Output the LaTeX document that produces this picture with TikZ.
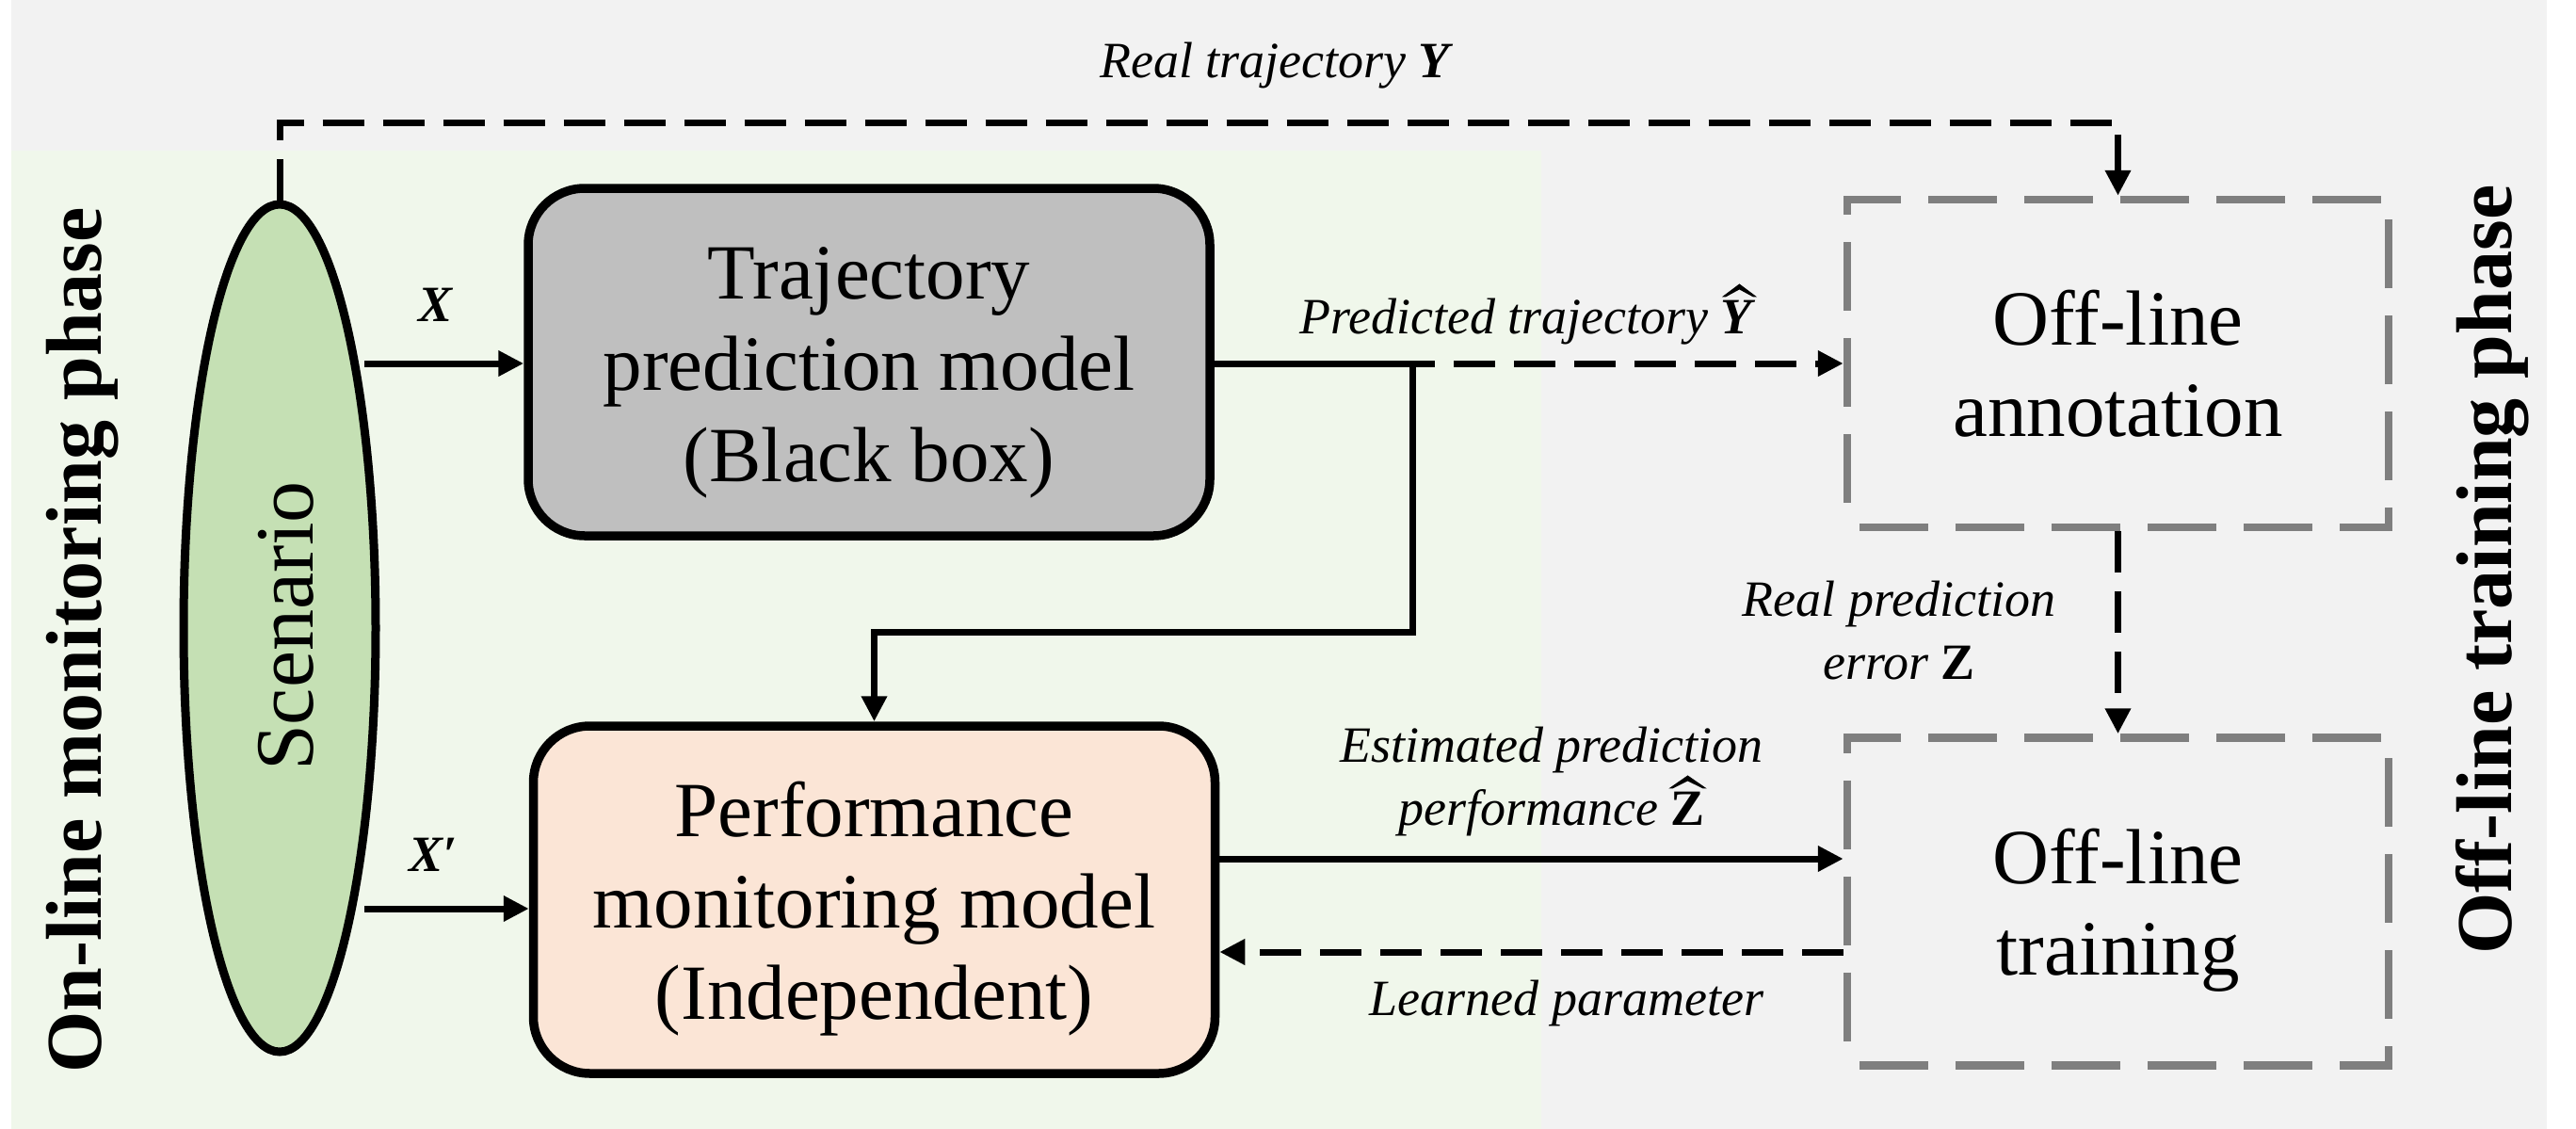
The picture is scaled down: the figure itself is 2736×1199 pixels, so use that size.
\documentclass[tikz,border=0pt]{standalone}
\usepackage{fontspec}
\setmainfont{Liberation Serif}
\usetikzlibrary{arrows.meta,shapes.geometric,calc}
\definecolor{bggray}{HTML}{F2F2F2}
\definecolor{bggreen}{HTML}{F0F7EB}
\definecolor{scengreen}{HTML}{C5E0B4}
\definecolor{trajgray}{HTML}{BFBFBF}
\definecolor{perfpink}{HTML}{FBE5D6}
\definecolor{dashgray}{HTML}{7F7F7F}
\begin{document}
\begin{tikzpicture}[x=1pt,y=-1pt,
  conn/.style={line width=7pt},
  arr/.style={conn,-{Triangle[length=27pt,width=26pt]}},
  darr/.style={arr,dash pattern=on 44pt off 20pt},
  bigbox/.style={draw,line width=9.5pt,rounded corners=60pt,minimum width=724pt,minimum height=369pt,inner sep=0pt},
  dbox/.style={draw=dashgray,line width=8.5pt,dash pattern=on 73pt off 29pt,dash phase=89pt,minimum width=575pt,minimum height=348pt,inner sep=0pt},
  boxtext/.style={font=\fontsize{83}{97}\selectfont,align=center,inner sep=0pt},
  lbl/.style={font=\fontsize{54}{67}\selectfont\itshape,align=center,inner sep=0pt},
  side/.style={font=\fontsize{84}{84}\selectfont\bfseries,rotate=90,anchor=base,inner sep=0pt},
  hatmark/.style={fill=black},
]
\useasboundingbox (0,0) rectangle (2736,1199);
% backgrounds
\fill[bggray] (12,0) rectangle (2705,1199);
\fill[bggreen] (12,160) rectangle (1637,1199);

% nodes
\node[ellipse,draw,line width=9pt,fill=scengreen,minimum width=204pt,minimum height=900pt,inner sep=0pt] (scen) at (297,667) {};
\node[rotate=90,anchor=base,font=\fontsize{88}{88}\selectfont,inner sep=0pt] (scentext) at (332,665) {Scenario};

\node[bigbox,fill=trajgray] (traj) at (923,384.5) {};
\node[boxtext] (trajtext) at ([yshift=-11pt]traj.center) {\strut Trajectory\\\strut prediction model\\\strut (Black box)};

\node[bigbox,fill=perfpink] (perf) at (928.5,955.5) {};
\node[boxtext] (perftext) at ([yshift=-11pt]perf.center) {\strut Performance\\\strut monitoring model\\\strut (Independent)};

\node[dbox] (ann) at (2249.5,386) {};
\node[boxtext] (anntext) at ([yshift=-10pt]ann.center) {\strut Off-line\\\strut annotation};

\node[dbox] (train) at (2249.5,957.5) {};
\node[boxtext] (traintext) at ([yshift=-10pt]train.center) {\strut Off-line\\\strut training};

\node[side] (online) at (107,680) {On-line monitoring phase};
\node[side] (offline) at (2667,605) {Off-line training phase};

% coordinates
\coordinate (ytop) at (0,130);
\coordinate (xs) at (387,386);
\coordinate (xps) at (387,965);
\coordinate (junc) at (1500,386);
\coordinate (estY) at (0,912);
\coordinate (lrnY) at (0,1011);

% connectors
\draw[darr] (scen.north) |- (ann.north |- ytop) -- (ann.north);
\draw[arr] (xs) -- (traj.west |- xs);
\draw[arr] (xps) -- (perf.west |- xps);
\draw[arr] (traj.east |- junc) -- (junc) -- ++(0,285) -| (perf.north);
\draw[darr,dash phase=20pt] (junc) -- (ann.west |- junc);
\draw[darr] (ann.south) -- (train.north);
\draw[arr] (perf.east |- estY) -- (train.west |- estY);
\draw[darr] (train.west |- lrnY) -- (perf.east |- lrnY);

% labels
\node[lbl,anchor=base] (lreal) at (1354,82) {Real trajectory {\bfseries Y}};
\node[lbl,anchor=base] (lx) at (463,341) {{\bfseries X}};
\node[lbl,anchor=base] (lxp) at (460,925) {{\bfseries X′}};

\node[lbl,anchor=base west] (lpred) at (1380,354) {Predicted trajectory};
\node[lbl,anchor=base west] (lpredY) at ([xshift=13pt]lpred.base east) {\bfseries Y};
\fill[hatmark] ($(lpredY.north west)+(1,-3)$) -- ($(lpredY.north)+(3,-17)$) -- ($(lpredY.north east)+(5,-3)$)
  -- ($(lpredY.north east)+(1,-3)$) -- ($(lpredY.north)+(3,-11)$) -- ($(lpredY.north west)+(5,-3)$) -- cycle;

\node[lbl,anchor=base] (lest) at (1648,809) {Estimated prediction};
\node[lbl,anchor=base west] (lperf) at (1485,876) {performance};
\node[lbl,anchor=base west] (lperfZ) at ([xshift=13pt]lperf.base east) {\bfseries\upshape Z};
\fill[hatmark] ($(lperfZ.north west)+(-2,-3)$) -- ($(lperfZ.north)+(0,-17)$) -- ($(lperfZ.north east)+(2,-3)$)
  -- ($(lperfZ.north east)+(-2,-3)$) -- ($(lperfZ.north)+(0,-11)$) -- ($(lperfZ.north west)+(2,-3)$) -- cycle;

\node[lbl] (lrpe) at (2017,675) {\strut Real prediction\\\strut error {\bfseries\upshape Z}};
\node[lbl,anchor=base] (llearn) at (1664,1078) {Learned parameter};
\end{tikzpicture}
\end{document}
